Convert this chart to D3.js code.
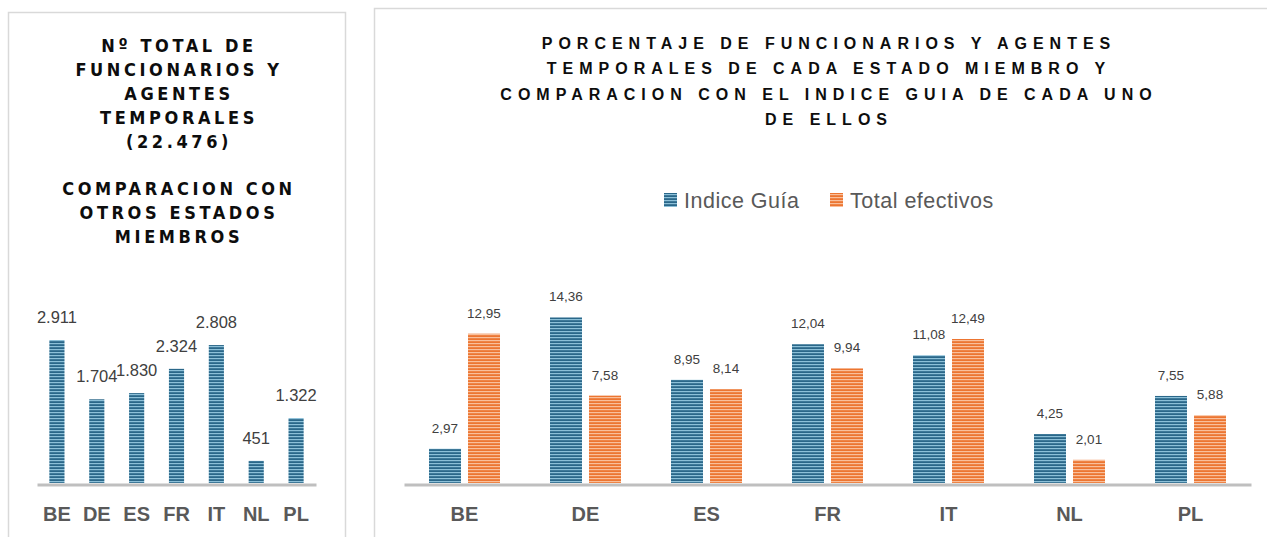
<!DOCTYPE html>
<html>
<head>
<meta charset="utf-8">
<script src="https://cdn.jsdelivr.net/npm/d3@7"></script>
<style>
  body { margin: 0; background: #fff; }
  svg { display: block; }
</style>
</head>
<body>
<svg id="chart" width="1267" height="537"></svg>
<script>
// left panel data
const leftCats = ["BE", "DE", "ES", "FR", "IT", "NL", "PL"];
const leftValues = [2911, 1704, 1830, 2324, 2808, 451, 1322];
const leftLabels = ["2.911", "1.704", "1.830", "2.324", "2.808", "451", "1.322"];
const leftTitle = ["Nº TOTAL DE", "FUNCIONARIOS Y", "AGENTES", "TEMPORALES", "(22.476)", "", "COMPARACION CON", "OTROS ESTADOS", "MIEMBROS"];

// right panel data
const rightCats = ["BE", "DE", "ES", "FR", "IT", "NL", "PL"];
const seriesNames = ["Indice Guía", "Total efectivos"];
const indiceGuia = [2.97, 14.36, 8.95, 12.04, 11.08, 4.25, 7.55];
const totalEfectivos = [12.95, 7.58, 8.14, 9.94, 12.49, 2.01, 5.88];
const rightTitle = ["PORCENTAJE DE FUNCIONARIOS Y AGENTES", "TEMPORALES DE CADA ESTADO MIEMBRO Y", "COMPARACION CON EL INDICE GUIA DE CADA UNO", "DE ELLOS"];

const fmt = d3.format(".2f");
const comma = (v) => fmt(v).replace(".", ",");

const svg = d3.select("#chart");
const defs = svg.append("defs");

// striped fills
function stripe(id, base, light) {
  const p = defs.append("pattern").attr("id", id)
    .attr("patternUnits", "userSpaceOnUse").attr("width", 4).attr("height", 3);
  p.append("rect").attr("width", 4).attr("height", 3).attr("fill", base);
  p.append("rect").attr("y", 1).attr("width", 4).attr("height", 1.2).attr("fill", light);
}
stripe("blueStripe", "#2a6789", "#8cc0d8");
stripe("orangeStripe", "#ec7531", "#f9bf9b");
const fills = ["url(#blueStripe)", "url(#orangeStripe)"];

// panel borders
svg.append("rect").attr("x", 8.5).attr("y", 12.5).attr("width", 337).attr("height", 540)
  .attr("fill", "none").attr("stroke", "#d9d9d9").attr("stroke-width", 1.5);
svg.append("rect").attr("x", 374.5).attr("y", 8.5).attr("width", 910).attr("height", 540)
  .attr("fill", "none").attr("stroke", "#d9d9d9").attr("stroke-width", 1.5);

// ---- left chart ----
const left = svg.append("g");

left.selectAll("text.title")
  .data(leftTitle)
  .enter()
  .append("text")
  .attr("class", "title")
  .attr("x", 179)
  .attr("y", (d, i) => 52 + i * 23.9)
  .attr("text-anchor", "middle")
  .attr("font-family", "'Liberation Sans Narrow', 'DejaVu Sans Condensed', sans-serif")
  .attr("font-weight", "bold")
  .attr("font-size", 18)
  .attr("letter-spacing", 3.6)
  .attr("fill", "#0d0d0d")
  .text((d) => d);

const lx = d3.scaleBand().domain(leftCats).range([37, 316]).paddingInner(0.62).paddingOuter(0.31);
const ly = d3.scaleLinear().domain([0, 2911]).range([483, 340]);

left.selectAll("rect.bar")
  .data(leftValues)
  .enter()
  .append("rect")
  .attr("class", "bar")
  .attr("x", (d, i) => lx(leftCats[i]))
  .attr("y", (d) => ly(d))
  .attr("width", lx.bandwidth())
  .attr("height", (d) => ly(0) - ly(d))
  .attr("fill", fills[0]);

left.selectAll("text.val")
  .data(leftValues)
  .enter()
  .append("text")
  .attr("class", "val")
  .attr("x", (d, i) => lx(leftCats[i]) + lx.bandwidth() / 2)
  .attr("y", (d) => ly(d) - 17)
  .attr("text-anchor", "middle")
  .attr("font-family", "'Liberation Sans', Arial, sans-serif")
  .attr("font-size", 16.5)
  .attr("fill", "#404040")
  .text((d, i) => leftLabels[i]);

const lAxis = left.append("g").attr("transform", "translate(0,484.5)")
  .call(d3.axisBottom(lx).tickSize(0).tickPadding(22));
lAxis.select(".domain").attr("stroke", "#bfbfbf").attr("stroke-width", 3);
lAxis.selectAll("text")
  .attr("font-family", "'Liberation Sans', Arial, sans-serif")
  .attr("font-weight", "bold")
  .attr("font-size", 20)
  .attr("fill", "#595959");

// ---- right chart ----
const right = svg.append("g");

right.selectAll("text.title")
  .data(rightTitle)
  .enter()
  .append("text")
  .attr("class", "title")
  .attr("x", 829)
  .attr("y", (d, i) => 49 + i * 25.3)
  .attr("text-anchor", "middle")
  .attr("font-family", "'Liberation Sans', Arial, sans-serif")
  .attr("font-weight", "bold")
  .attr("font-size", 16)
  .attr("letter-spacing", 6)
  .attr("fill", "#0d0d0d")
  .text((d) => d);

// legend
const legend = right.selectAll("g.leg")
  .data(seriesNames)
  .enter()
  .append("g")
  .attr("class", "leg")
  .attr("transform", (d, i) => `translate(${i === 0 ? 664 : 830},193)`);
legend.append("rect").attr("width", 13).attr("height", 14).attr("fill", (d, i) => fills[i]);
legend.append("text")
  .attr("x", 20)
  .attr("y", 14.5)
  .attr("font-family", "'Liberation Sans', Arial, sans-serif")
  .attr("font-size", 21.5)
  .attr("letter-spacing", 0.5)
  .attr("fill", "#595959")
  .text((d) => d);

const rx0 = d3.scaleBand().domain(rightCats).range([404, 1251]);
const rx1 = d3.scaleBand().domain(seriesNames).range([25, 96]).paddingInner(0.18);
const ry = d3.scaleLinear().domain([0, 15]).range([483, 483 - 15 * 11.53]);

const rows = rightCats.map((c, i) => [
  { cat: c, s: seriesNames[0], v: indiceGuia[i], k: 0 },
  { cat: c, s: seriesNames[1], v: totalEfectivos[i], k: 1 },
]).flat();

right.selectAll("rect.bar")
  .data(rows)
  .enter()
  .append("rect")
  .attr("class", "bar")
  .attr("x", (d) => rx0(d.cat) + rx1(d.s))
  .attr("y", (d) => ry(d.v))
  .attr("width", rx1.bandwidth())
  .attr("height", (d) => ry(0) - ry(d.v))
  .attr("fill", (d) => fills[d.k]);

right.selectAll("text.val")
  .data(rows)
  .enter()
  .append("text")
  .attr("class", "val")
  .attr("x", (d) => rx0(d.cat) + rx1(d.s) + rx1.bandwidth() / 2)
  .attr("y", (d) => ry(d.v) - 16)
  .attr("text-anchor", "middle")
  .attr("font-family", "'Liberation Sans', Arial, sans-serif")
  .attr("font-size", 13.5)
  .attr("fill", "#404040")
  .text((d) => comma(d.v));

const rAxis = right.append("g").attr("transform", "translate(0,484.5)")
  .call(d3.axisBottom(rx0).tickSize(0).tickPadding(22));
rAxis.select(".domain").attr("stroke", "#bfbfbf").attr("stroke-width", 3);
rAxis.selectAll("text")
  .attr("font-family", "'Liberation Sans', Arial, sans-serif")
  .attr("font-weight", "bold")
  .attr("font-size", 20)
  .attr("fill", "#595959");
</script>
</body>
</html>
